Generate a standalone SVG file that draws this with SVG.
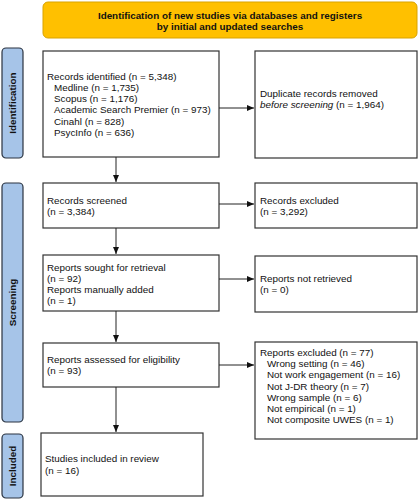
<svg xmlns="http://www.w3.org/2000/svg" width="419" height="500" viewBox="0 0 419 500">
<style>
text{font-family:"Liberation Sans",Arial,sans-serif;font-size:9.85px;fill:#111}
.b{font-weight:bold}
.box{fill:#fff;stroke:#333;stroke-width:1.2}
.side{fill:#A6C4E8;stroke:#2a3340;stroke-width:1.2}
.con{stroke:#222;stroke-width:1;fill:none;marker-end:url(#ah)}
</style>
<defs>
<marker id="ah" markerWidth="7" markerHeight="6" refX="7" refY="3" orient="auto" markerUnits="userSpaceOnUse">
<path d="M0,0 L7,3 L0,6 Z" fill="#111"/>
</marker>
</defs>
<rect width="419" height="500" fill="#fff"/>
<g id="header">
<rect x="43" y="2" width="374" height="36" rx="5" fill="#FFC000" stroke="#D9A300" stroke-width="1"/>
<text class="b" x="230" y="18.5" text-anchor="middle">Identification of new studies via databases and registers</text>
<text class="b" x="230" y="29.5" text-anchor="middle">by initial and updated searches</text>
</g>
<g id="side-identification">
<rect class="side" x="2" y="48" width="21" height="110" rx="4"/>
<text class="b" transform="translate(16,103) rotate(-90)" text-anchor="middle">Identification</text>
</g>
<g id="side-screening">
<rect class="side" x="2" y="183" width="21" height="239" rx="4"/>
<text class="b" transform="translate(16,302.5) rotate(-90)" text-anchor="middle">Screening</text>
</g>
<g id="side-included">
<rect class="side" x="2" y="434" width="21" height="64" rx="4"/>
<text class="b" transform="translate(16,466) rotate(-90)" text-anchor="middle">Included</text>
</g>
<g id="records-identified">
<rect class="box" x="43" y="51" width="176" height="106"/>
<text x="47" y="79.5">Records identified (n = 5,348)</text>
<text x="54" y="90.8">Medline (n = 1,735)</text>
<text x="54" y="102">Scopus (n = 1,176)</text>
<text x="54" y="113.3">Academic Search Premier (n = 973)</text>
<text x="54" y="124.6">Cinahl (n = 828)</text>
<text x="54" y="135.9">PsycInfo (n = 636)</text>
</g>
<g id="duplicates">
<rect class="box" x="255" y="51" width="162" height="107"/>
<text x="260" y="96.5">Duplicate records removed</text>
<text x="260" y="108"><tspan font-style="italic">before screening</tspan> (n = 1,964)</text>
</g>
<g id="records-screened">
<rect class="box" x="43" y="183" width="176" height="45"/>
<text x="47" y="203.5">Records screened</text>
<text x="47" y="215">(n = 3,384)</text>
</g>
<g id="records-excluded">
<rect class="box" x="255" y="183" width="162" height="45"/>
<text x="260" y="203.5">Records excluded</text>
<text x="260" y="215">(n = 3,292)</text>
</g>
<g id="reports-sought">
<rect class="box" x="43" y="255" width="176" height="56"/>
<text x="47" y="270.5">Reports sought for retrieval</text>
<text x="47" y="281.8">(n = 92)</text>
<text x="47" y="293">Reports manually added</text>
<text x="47" y="304.3">(n = 1)</text>
</g>
<g id="not-retrieved">
<rect class="box" x="255" y="256" width="162" height="56"/>
<text x="260" y="281.5">Reports not retrieved</text>
<text x="260" y="292.8">(n = 0)</text>
</g>
<g id="reports-assessed">
<rect class="box" x="43" y="343" width="176" height="44"/>
<text x="47" y="362.5">Reports assessed for eligibility</text>
<text x="47" y="374">(n = 93)</text>
</g>
<g id="reports-excluded">
<rect class="box" x="255" y="342" width="162" height="97"/>
<text x="260" y="356">Reports excluded (n = 77)</text>
<text x="267" y="367.2">Wrong setting (n = 46)</text>
<text x="267" y="378.4">Not work engagement (n = 16)</text>
<text x="267" y="389.6">Not J-DR theory (n = 7)</text>
<text x="267" y="400.8">Wrong sample (n = 6)</text>
<text x="267" y="412">Not empirical (n = 1)</text>
<text x="267" y="423.2">Not composite UWES (n = 1)</text>
</g>
<g id="included">
<rect class="box" x="41" y="433" width="162" height="63"/>
<text x="45" y="461.5">Studies included in review</text>
<text x="45" y="473.5">(n = 16)</text>
</g>
<g id="connectors">
<line class="con" x1="116" y1="157" x2="116" y2="182"/>
<line class="con" x1="116" y1="228" x2="116" y2="254"/>
<line class="con" x1="116" y1="311" x2="116" y2="342"/>
<line class="con" x1="116" y1="387" x2="116" y2="432"/>
<line class="con" x1="219" y1="108" x2="254" y2="108"/>
<line class="con" x1="219" y1="204" x2="254" y2="204"/>
<line class="con" x1="219" y1="279" x2="254" y2="279"/>
<line class="con" x1="219" y1="365" x2="254" y2="365"/>
</g>
</svg>
